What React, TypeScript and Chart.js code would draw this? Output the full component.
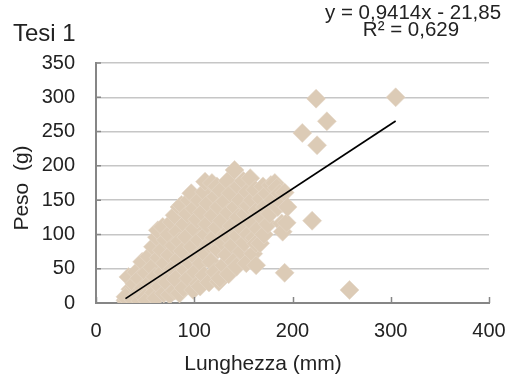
import { useEffect, useRef } from "react";
import { Chart, registerables } from "chart.js";

Chart.register(...registerables);

// Body length (mm) and weight (g) of each measured specimen
const lengthMm = [
  30, 31, 33, 33, 35, 30,
  38, 39, 41, 43, 44, 45,
  47, 48, 50, 51, 52, 54, 55,
  57, 58, 59, 60, 61, 62, 63, 64, 65,
  67, 68, 68, 69, 70, 71, 72, 74, 75, 75,
  77, 78, 79, 80, 80, 81, 83, 84, 85, 85, 85,
  87, 88, 89, 90, 91, 92, 93, 94, 95, 95,
  97, 98, 99, 100, 100, 101, 102, 103, 104, 105, 105,
  106, 107, 108, 109, 110, 110, 111, 112, 113, 114, 115, 115,
  117, 118, 119, 120, 121, 122, 123, 124, 125, 125, 123,
  126, 127, 128, 129, 130, 131, 132, 133, 134, 135, 135,
  137, 138, 139, 140, 141, 142, 143, 144, 145, 145,
  147, 148, 149, 150, 151, 152, 153, 154, 155, 155,
  157, 158, 159, 160, 161, 162, 163, 164, 165, 163,
  167, 168, 169, 170, 171, 172, 174, 175,
  177, 178, 180, 182, 184, 185,
  187, 189, 190, 190, 192, 194, 192, 195,
  210, 224, 225, 235, 305, 220, 258,
];
const weightG = [
  4, 2, 12, 38, 20, 9,
  5, 28, 45, 14, 36, 3,
  60, 22, 8, 44, 4, 68, 30,
  52, 82, 15, 38, 7, 96, 106, 66, 24,
  77, 111, 45, 14, 58, 92, 30, 100, 12, 70,
  118, 50, 84, 128, 18, 35, 104, 64, 14, 140, 90,
  143, 76, 22, 115, 48, 96, 130, 36, 60, 150,
  160, 82, 19, 108, 138, 45, 66, 122, 28, 150, 92,
  24, 58, 132, 75, 162, 40, 177, 100, 115, 145, 30, 86,
  60, 175, 128, 95, 45, 155, 110, 78, 140, 31, 170,
  36, 164, 120, 88, 55, 148, 100, 70, 178, 132, 42,
  160, 112, 84, 60, 194, 140, 53, 98, 170, 125,
  150, 75, 108, 178, 88, 130, 58, 162, 100, 142,
  182, 118, 150, 72, 95, 165, 55, 135, 108, 87,
  87, 152, 125, 170, 100, 140, 160, 115,
  130, 172, 150, 175, 168, 140,
  160, 116, 104, 146, 161, 117, 44, 140,
  248, 298, 230, 265, 300, 120, 19,
];

// Linear regression shown in the top-right corner
const slope = 0.9414;
const intercept = -21.85;
const rSquared = 0.629;

const xTicks = [0, 100, 200, 300, 400];
const yTicks = [0, 50, 100, 150, 200, 250, 300, 350];

const FONT = "'Liberation Sans', Arial, sans-serif";
const TEXT = "#222222";
const AXIS = "#868686";

const comma = (v: number) => String(v).replace(".", ",");

export default function App() {
  const canvasRef = useRef<HTMLCanvasElement | null>(null);

  useEffect(() => {
    document.body.style.margin = "0";
    const canvas = canvasRef.current;
    if (!canvas) return;

    const points = lengthMm.map((x, i) => ({ x, y: weightG[i] }));
    const xMin = Math.min(...lengthMm);
    const xMax = Math.max(...lengthMm);
    const trend = [xMin, xMax].map((x) => ({ x, y: slope * x + intercept }));

    const eqLine1 = `y = ${comma(slope)}x ${intercept < 0 ? "-" : "+"} ${comma(Math.abs(intercept))}`;
    const eqLine2 = `R² = ${comma(rSquared)}`;

    const decorations = {
      id: "decorations",
      afterDraw(chart: Chart) {
        const { ctx } = chart;
        const xs = chart.scales.x;
        const ys = chart.scales.y;
        ctx.save();

        // inward tick marks on both axes
        ctx.strokeStyle = AXIS;
        ctx.lineWidth = 1.5;
        ctx.beginPath();
        for (const v of xTicks) {
          const px = Math.round(xs.getPixelForValue(v)) + 0.5;
          ctx.moveTo(px, ys.bottom);
          ctx.lineTo(px, ys.bottom - 6);
        }
        for (const v of yTicks) {
          const py = ys.getPixelForValue(v);
          ctx.moveTo(xs.left, py);
          ctx.lineTo(xs.left + 5, py);
        }
        ctx.stroke();

        ctx.fillStyle = TEXT;
        ctx.textBaseline = "alphabetic";

        ctx.font = `24px ${FONT}`;
        ctx.textAlign = "left";
        ctx.fillText("Tesi 1", 13, 41);

        ctx.font = `20.5px ${FONT}`;
        ctx.textAlign = "center";
        ctx.fillText(eqLine1, 413, 18.5);
        ctx.fillText(eqLine2, 411, 36);

        ctx.font = `21px ${FONT}`;
        ctx.fillText("Lunghezza (mm)", 263, 369.5);

        ctx.translate(22, 188);
        ctx.rotate(-Math.PI / 2);
        ctx.textBaseline = "middle";
        ctx.fillText("Peso  (g)", 0, 0);

        ctx.restore();
      },
    };

    const chart = new Chart(canvas, {
      type: "scatter",
      data: {
        datasets: [
          {
            type: "line",
            label: "Lineare",
            data: trend,
            borderColor: "#000000",
            borderWidth: 1.75,
            pointRadius: 0,
            fill: false,
            order: 0,
          },
          {
            type: "scatter",
            label: "Tesi 1",
            data: points,
            pointStyle: "rectRot",
            pointRadius: 9.5,
            backgroundColor: "#DCCBB6",
            borderColor: "#E4D7C7",
            borderWidth: 0.6,
            order: 1,
          },
        ],
      },
      options: {
        responsive: false,
        animation: false,
        events: [],
        layout: { padding: { top: 63, right: 23, left: 0, bottom: 0 } },
        plugins: {
          legend: { display: false },
          tooltip: { enabled: false },
          title: { display: false },
        },
        scales: {
          x: {
            type: "linear",
            min: 0,
            max: 400,
            afterBuildTicks: (s: any) => {
              s.ticks = xTicks.map((value) => ({ value }));
            },
            afterFit: (s: any) => {
              s.height = 71;
              s.paddingLeft = 0;
              s.paddingRight = 0;
            },
            grid: { display: false, drawTicks: false },
            border: { display: true, color: AXIS, width: 2 },
            ticks: {
              color: TEXT,
              padding: 16,
              maxRotation: 0,
              font: { family: FONT, size: 20 },
            },
          },
          y: {
            type: "linear",
            min: 0,
            max: 350,
            afterBuildTicks: (s: any) => {
              s.ticks = yTicks.map((value) => ({ value }));
            },
            afterFit: (s: any) => {
              s.width = 96;
              s.paddingTop = 0;
              s.paddingBottom = 0;
            },
            grid: { color: "#C6C6C6", lineWidth: 1.5, drawTicks: false },
            border: { display: true, color: AXIS, width: 2 },
            ticks: {
              color: TEXT,
              padding: 21,
              font: { family: FONT, size: 20 },
            },
          },
        },
      },
      plugins: [decorations],
    });

    return () => chart.destroy();
  }, []);

  return (
    <div style={{ width: 512, height: 374, background: "#ffffff" }}>
      <canvas ref={canvasRef} width={512} height={374} style={{ display: "block" }} />
    </div>
  );
}
